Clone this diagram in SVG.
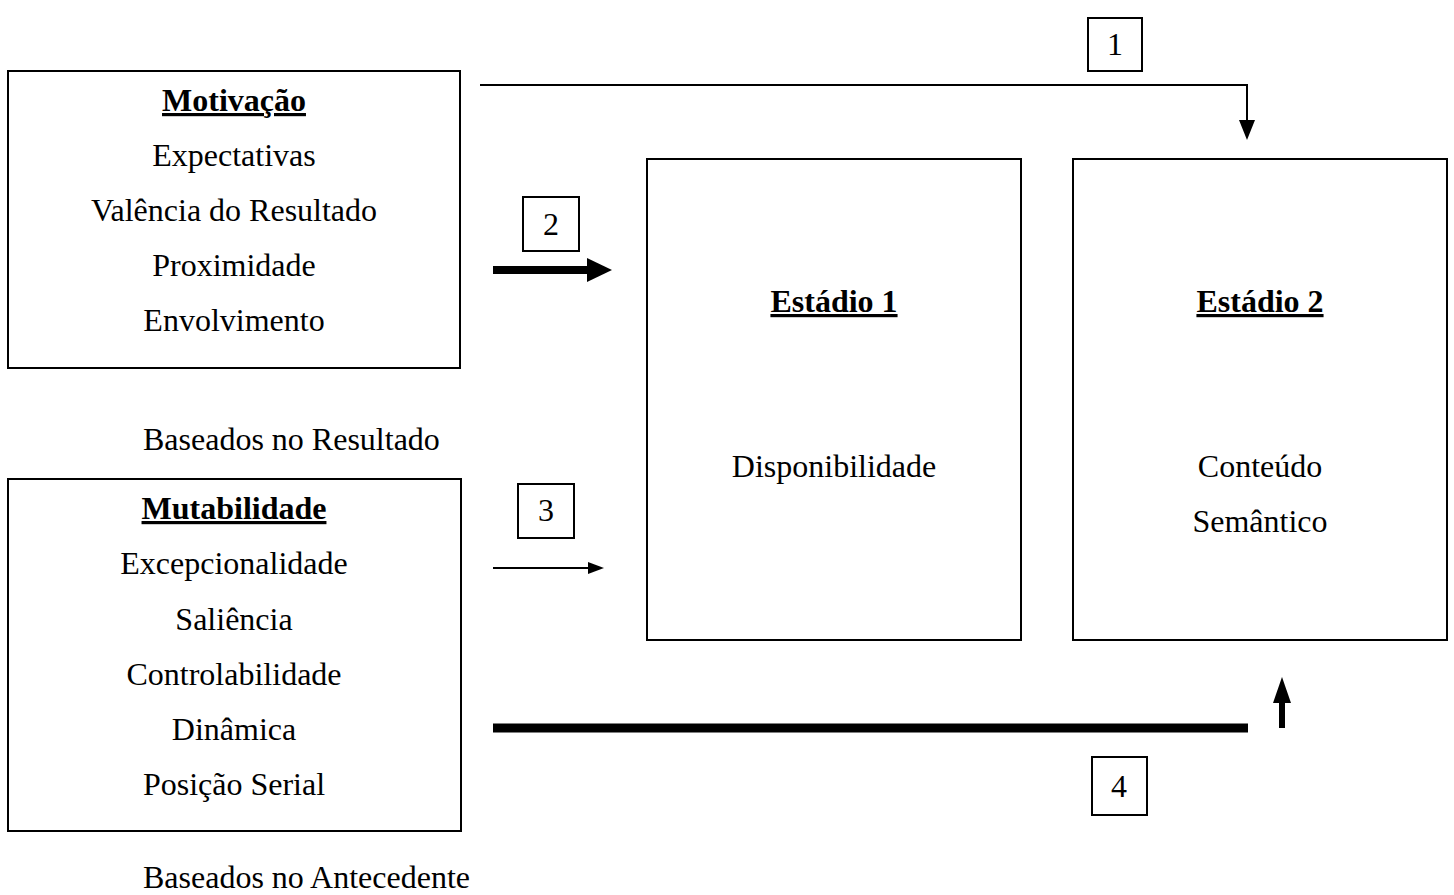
<svg xmlns="http://www.w3.org/2000/svg" width="1454" height="895" viewBox="0 0 1454 895">
<style>
text{font-family:"Liberation Serif","Times New Roman",serif;font-size:32px;fill:#000;text-anchor:middle}
.b{font-weight:bold;text-decoration:underline}
.l{text-anchor:start}
.box{fill:#fff;stroke:#000;stroke-width:2}
.ln{fill:none;stroke:#000}
</style>
<rect width="1454" height="895" fill="#fff"/>
<g id="motivacao">
<rect class="box" x="8" y="71" width="452" height="297"/>
<text class="b" x="234" y="111">Motivação</text>
<text x="234" y="166">Expectativas</text>
<text x="234" y="221">Valência do Resultado</text>
<text x="234" y="276">Proximidade</text>
<text x="234" y="331">Envolvimento</text>
</g>
<g id="label-resultado"><text class="l" x="143" y="450">Baseados no Resultado</text></g>
<g id="mutabilidade">
<rect class="box" x="8" y="479" width="453" height="352"/>
<text class="b" x="234" y="519">Mutabilidade</text>
<text x="234" y="574">Excepcionalidade</text>
<text x="234" y="630">Saliência</text>
<text x="234" y="685">Controlabilidade</text>
<text x="234" y="740">Dinâmica</text>
<text x="234" y="795">Posição Serial</text>
</g>
<g id="label-antecedente"><text class="l" x="143" y="888">Baseados no Antecedente</text></g>
<g id="estadio1">
<rect class="box" x="647" y="159" width="374" height="481"/>
<text class="b" x="834" y="312">Estádio 1</text>
<text x="834" y="477">Disponibilidade</text>
</g>
<g id="estadio2">
<rect class="box" x="1073" y="159" width="374" height="481"/>
<text class="b" x="1260" y="312">Estádio 2</text>
<text x="1260" y="477">Conteúdo</text>
<text x="1260" y="532">Semântico</text>
</g>
<g id="n1"><rect class="box" x="1088" y="18" width="54" height="53"/><text x="1115" y="55">1</text></g>
<g id="n2"><rect class="box" x="523" y="197" width="56" height="54"/><text x="551" y="235">2</text></g>
<g id="n3"><rect class="box" x="518" y="484" width="56" height="54"/><text x="546" y="521">3</text></g>
<g id="n4"><rect class="box" x="1092" y="757" width="55" height="58"/><text x="1119" y="797">4</text></g>
<g id="connectors">
<path class="ln" stroke-width="2" d="M480,85 H1247 V124"/>
<path d="M1239,120 L1255,120 L1247,140 Z" fill="#000"/>
<line class="ln" x1="493" y1="270" x2="590" y2="270" stroke-width="8"/>
<path d="M587,258 L612,270 L587,282 Z" fill="#000"/>
<line class="ln" x1="493" y1="568" x2="590" y2="568" stroke-width="2"/>
<path d="M588,562 L604,568 L588,574 Z" fill="#000"/>
<line class="ln" x1="493" y1="728" x2="1248" y2="728" stroke-width="9"/>
<line class="ln" x1="1282" y1="728" x2="1282" y2="700" stroke-width="6"/>
<path d="M1273,703 L1282,677 L1291,703 Z" fill="#000"/>
</g>
</svg>
